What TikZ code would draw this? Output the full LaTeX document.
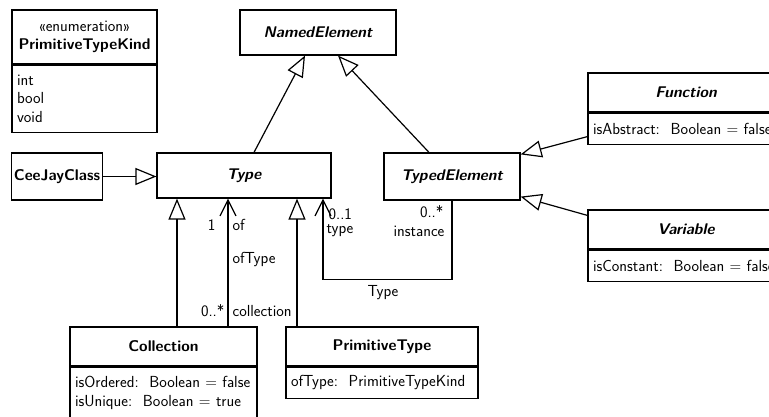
\documentclass[tikz,border=0pt]{standalone}
\usepackage{tikz}
\usetikzlibrary{arrows.meta,positioning}

\newcommand{\umlfont}{\sffamily\fontsize{16}{18.5}\selectfont}
\newcommand{\umltitle}{\sffamily\fontsize{15.5}{18.5}\selectfont\bfseries}

\begin{document}
\begin{tikzpicture}[x=1pt, y=-1pt, line width=1.2pt,
        cls/.style={draw, inner sep=2pt, align=center, font=\umltitle},
        abs/.style={cls, font=\umltitle\itshape},
        attrs/.style={draw, anchor=north west, align=left, inner xsep=5pt, inner ysep=2pt, font=\umlfont},
        lbl/.style={inner sep=0pt, font=\umlfont},
        gen/.style={-{Triangle[open, length=21pt, width=17pt]}},
        assoc/.style={-{Straight Barb[length=16pt, width=16pt]}}]
            % Page
            \path[use as bounding box] (0,0) rectangle (769,416);
            \clip (0,0) rectangle (769,416);

            % Enumeration
            \node[cls, minimum width=145pt, minimum height=54pt, font=\umlfont] (kind) at (84.5,37) {\guillemotleft enumeration\guillemotright\\{\umltitle PrimitiveTypeKind}};
            \node[attrs, text width=135pt, minimum height=67pt] (kindlits) at (kind.south west) {int\\bool\\void};

            % Classes
            \node[abs, minimum width=156pt, minimum height=45pt] (named) at (318,32.5) {NamedElement};
            \node[cls, minimum width=90pt, minimum height=47pt] (ceejay) at (57,176.5) {CeeJayClass};
            \node[abs, minimum width=174pt, minimum height=45pt] (type) at (244,175.5) {Type};
            \node[abs, minimum width=136pt, minimum height=47pt] (typed) at (452,176.5) {TypedElement};

            \node[abs, minimum width=196pt, minimum height=39pt] (func) at (686,92.5) {Function};
            \node[attrs, text width=186pt, minimum height=31pt] (funcattrs) at (func.south west) {isAbstract:~~Boolean~=~false};
            \node[abs, minimum width=196pt, minimum height=39pt] (var) at (686,229.5) {Variable};
            \node[attrs, text width=186pt, minimum height=31pt] (varattrs) at (var.south west) {isConstant:~~Boolean~=~false};

            \node[cls, minimum width=187pt, minimum height=39pt] (coll) at (163.5,346.5) {Collection};
            \node[attrs, text width=177pt, minimum height=51pt] (collattrs) at (coll.south west) {isOrdered:~~Boolean~=~false\\isUnique:~~Boolean~=~true};
            \node[cls, minimum width=192pt, minimum height=39pt] (prim) at (382,346.5) {PrimitiveType};
            \node[attrs, text width=182pt, minimum height=31pt] (primattrs) at (prim.south west) {ofType:~~PrimitiveTypeKind};

            % Generalizations
            \draw[gen] (ceejay.east) -- (ceejay.east -| type.west);
            \draw[gen] ([xshift=10pt]type.north) -- ([xshift=-13pt]named.south);
            \draw[gen] ([xshift=-23pt]typed.north) -- ([xshift=20pt]named.south);
            \draw[gen] ([yshift=-24pt]funcattrs.north west) -- ([yshift=-2pt]typed.north east);
            \draw[gen] ([yshift=-6pt]var.north west) -- ([yshift=4pt]typed.south east);
            \draw[gen] ([xshift=13.5pt]coll.north) -- ([xshift=13.5pt]coll.north |- type.south);
            \draw[gen] ([xshift=-85pt]prim.north) -- ([xshift=-85pt]prim.north |- type.south);

            % Associations
            \draw[assoc] ([xshift=64.5pt]coll.north) -- ([xshift=64.5pt]coll.north |- type.south);
            \draw[assoc] (typed.south) -- ++(0,79) -| ([xshift=79pt]type.south);

            % Labels
            \node[lbl, anchor=east] (mulone) at (216,225) {1};
            \node[lbl, anchor=west] (roleof) at (232,225) {of};
            \node[lbl, anchor=west] (nameoftype) at (232,260) {ofType};
            \node[lbl, anchor=east] (mulcoll) at (225,311) {0..*};
            \node[lbl, anchor=west] (rolecoll) at (232,311) {collection};

            \node[lbl, anchor=west] (multype) at (328,214) {0..1};
            \node[lbl, anchor=west] (roletype) at (326,231) {type};
            \node[lbl, anchor=east] (mulinst) at (444,212) {0..*};
            \node[lbl, anchor=east] (roleinst) at (445,231) {instance};
            \node[lbl] (nametype) at (383,293) {Type};
\end{tikzpicture}
\end{document}
